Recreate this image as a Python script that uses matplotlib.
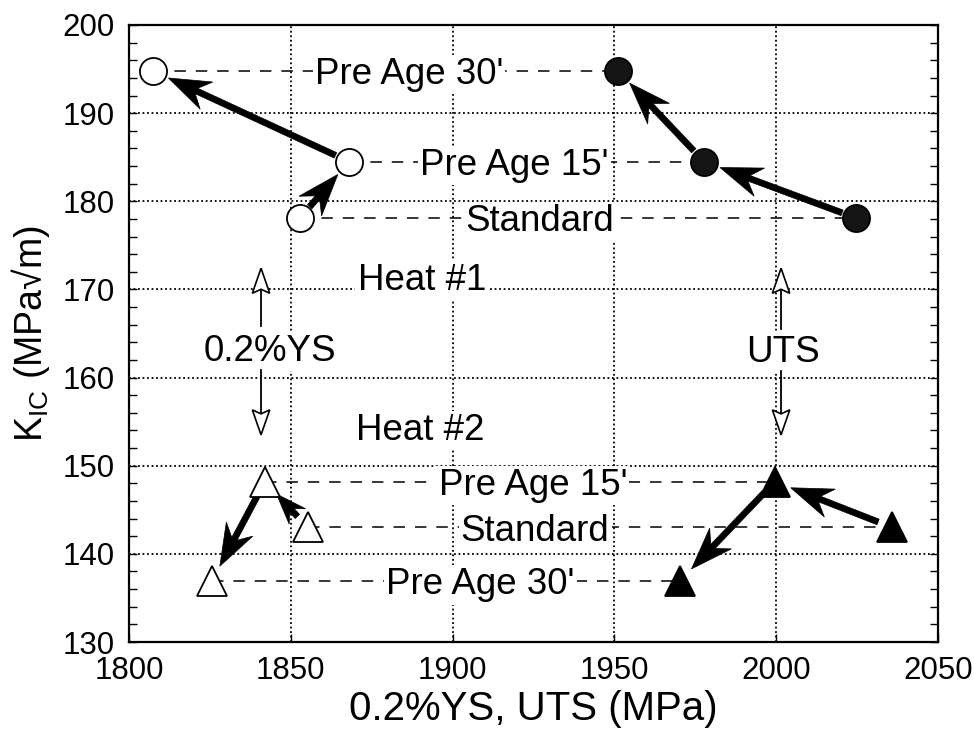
import numpy as np
import matplotlib
matplotlib.use("Agg")
import matplotlib.pyplot as plt
from matplotlib.patches import Polygon
from matplotlib.lines import Line2D
from matplotlib.transforms import IdentityTransform
from matplotlib.ticker import MultipleLocator

plt.rcParams["font.family"] = ["Liberation Sans", "DejaVu Sans"]
plt.rcParams["mathtext.fontset"] = "custom"
plt.rcParams["mathtext.rm"] = "Liberation Sans"
plt.rcParams["mathtext.it"] = "Liberation Sans:italic"

# Treatment order within every series
treatments = ["Standard", "Pre Age 15'", "Pre Age 30'"]

# Heat #1: 0.2% yield strength, tensile strength, fracture toughness
heat1_ys = [1852.8, 1868.0, 1807.4]
heat1_uts = [2024.7, 1977.7, 1951.1]
heat1_kic = [178.1, 184.5, 194.8]

# Heat #2
heat2_ys = [1855.2, 1842.0, 1825.6]
heat2_uts = [2035.8, 1999.6, 1970.2]
heat2_kic = [143.0, 148.2, 136.9]

# where the treatment names sit along each dashed guide
heat1_label_x = [1927.0, 1919.0, 1886.5]
heat2_label_x = [1925.5, 1924.8, 1908.5]

x_ticks = [1800, 1850, 1900, 1950, 2000, 2050]
y_ticks = [130, 140, 150, 160, 170, 180, 190, 200]

LABEL_FS = 26.5
TICK_FS = 22.5

fig = plt.figure(figsize=(9.74, 7.40), dpi=100)
ax = fig.add_axes([129 / 974, 1 - 642 / 740, (938 - 129) / 974, (642 - 25) / 740])
ax.set_xlim(x_ticks[0], x_ticks[-1])
ax.set_ylim(y_ticks[0], y_ticks[-1])
ax.set_xticks(x_ticks)
ax.set_yticks(y_ticks)
ax.yaxis.set_minor_locator(MultipleLocator(2))
ax.tick_params(which="both", direction="in", left=True, right=True, top=False,
               bottom=True, labelsize=TICK_FS, pad=10, length=6, width=1)
ax.set_axisbelow(True)
ax.grid(True, which="major", color="black", linestyle=(0, (1, 1.5)), linewidth=1.3)
for s in ax.spines.values():
    s.set_linewidth(1.6)

ax.set_xlabel("0.2%YS, UTS (MPa)", fontsize=29, labelpad=3)
ax.set_ylabel(r"K$_{\mathregular{IC}}$ (MPa√m)", fontsize=27, labelpad=8)

cap_half = 0.716 * LABEL_FS / 2


def label(x, y, s):
    ax.annotate(s, (x, y), xytext=(0, -cap_half), textcoords="offset points",
                ha="center", va="baseline", fontsize=LABEL_FS, zorder=4,
                bbox=dict(facecolor="white", edgecolor="none", pad=1.5))


# dashed guides joining the YS and UTS point of each treatment
for ys, uts, kic, lx in [(heat1_ys, heat1_uts, heat1_kic, heat1_label_x),
                         (heat2_ys, heat2_uts, heat2_kic, heat2_label_x)]:
    for i, name in enumerate(treatments):
        ax.plot([ys[i], uts[i]], [kic[i], kic[i]], color="black", lw=1.1,
                linestyle=(0, (7.5, 6.5)), zorder=2)
        label(lx[i], kic[i], name)

label(1890.5, 171.4, "Heat #1")
label(1890.0, 154.4, "Heat #2")
label(1843.5, 163.4, "0.2%YS")
label(2002.0, 163.3, "UTS")

# markers
ax.plot(heat1_ys, heat1_kic, "o", ms=19.5, mfc="white", mec="black", mew=1.3, zorder=6)
ax.plot(heat1_uts, heat1_kic, "o", ms=19.5, mfc="#151515", mec="black", mew=1.3, zorder=6)
ax.plot(heat2_ys, heat2_kic, "^", ms=21.5, mfc="white", mec="black", mew=1.3, zorder=6)
ax.plot(heat2_uts, heat2_kic, "^", ms=21.5, mfc="black", mec="black", mew=1.3, zorder=6)


def solid_arrow(p_from, p_to, shrink_a=15, shrink_b=17, head_len=42, head_half=15,
                notch=31, width=6):
    T = ax.transData
    a = T.transform(p_from)
    b = T.transform(p_to)
    d = b - a
    u = d / np.hypot(*d)
    n = np.array([-u[1], u[0]])
    tail = a + u * shrink_a
    tip = b - u * shrink_b
    length = np.hypot(*(tip - tail))
    scale = min(1.0, length / head_len)
    hl = head_len * scale
    hh = head_half * max(scale, 0.75)
    nt = notch * scale
    base = tip - u * hl
    neck = tip - u * nt
    w = width / 2
    pts = [tail + n * w, neck + n * w, base + n * hh, tip,
           base - n * hh, neck - n * w, tail - n * w]
    ax.add_patch(Polygon(pts, closed=True, facecolor="black", edgecolor="black",
                         lw=0.5, transform=IdentityTransform(), zorder=5))


for ys, uts, kic in [(heat1_ys, heat1_uts, heat1_kic), (heat2_ys, heat2_uts, heat2_kic)]:
    for xs in (ys, uts):
        for i in range(len(treatments) - 1):
            solid_arrow((xs[i], kic[i]), (xs[i + 1], kic[i + 1]))


def hollow_arrow(x, y0, y1, head_len=25, head_half=8.7, notch=21):
    T = ax.transData
    a = T.transform((x, y0))
    tip = T.transform((x, y1))
    u = (tip - a) / np.hypot(*(tip - a))
    n = np.array([-u[1], u[0]])
    base = tip - u * head_len
    neck = tip - u * notch
    ax.add_line(Line2D([a[0], neck[0]], [a[1], neck[1]], color="black", lw=1.3,
                       transform=IdentityTransform(), zorder=5))
    ax.add_patch(Polygon([tip, base + n * head_half, neck, base - n * head_half],
                         closed=True, facecolor="white", edgecolor="black", lw=1.2,
                         transform=IdentityTransform(), zorder=5))


hollow_arrow(1840.8, 165.8, 172.4)
hollow_arrow(1840.8, 160.9, 153.5)
hollow_arrow(2001.5, 165.5, 172.4)
hollow_arrow(2001.5, 160.7, 153.5)

fig.savefig("out.png", dpi=100)
